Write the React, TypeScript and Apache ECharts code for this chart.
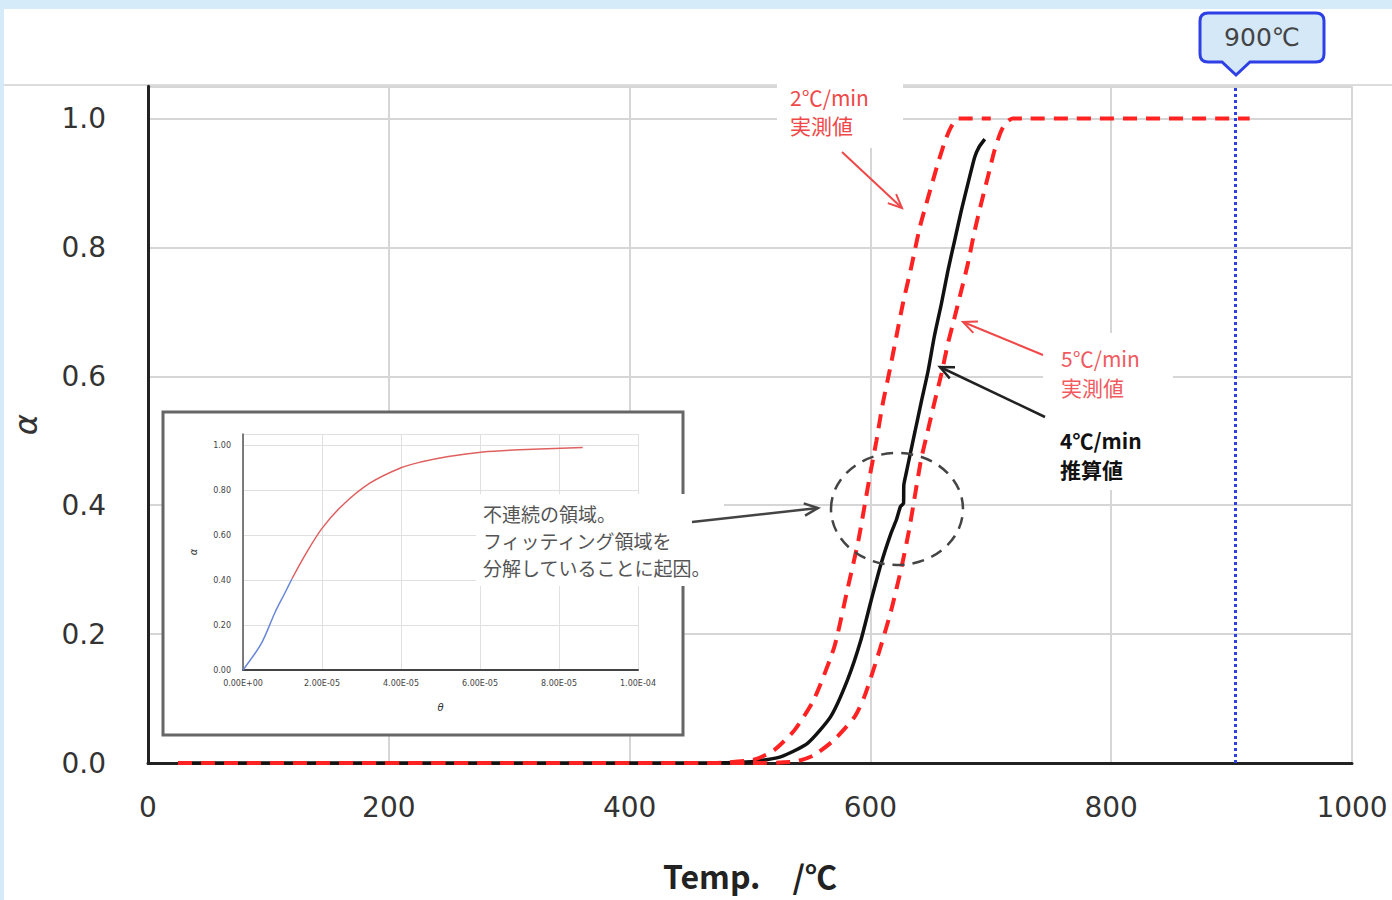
import React, { useEffect, useRef } from "react";
import * as echarts from "echarts";

// ---- main chart data (Temp. °C, α) ----
const slowTemp = [25, 300, 470, 503, 520, 537, 553, 570, 581, 590, 599, 605, 610, 616, 621.5, 627, 634, 641, 648, 656, 662, 667, 673, 700];
const slowAlpha = [0, 0, 0, 0.005, 0.02, 0.051, 0.098, 0.18, 0.27, 0.345, 0.44, 0.5, 0.555, 0.609, 0.661, 0.713, 0.77, 0.831, 0.878, 0.93, 0.965, 0.987, 1.0, 1.0];

const fastTemp = [25, 300, 500, 537, 553, 570, 587, 595, 606, 617, 626, 632, 637, 642, 648, 653, 659, 664.4, 670, 675.5, 681, 686.6, 692, 697.5, 703, 708, 712, 718, 915];
const fastAlpha = [0, 0, 0, 0.002, 0.012, 0.036, 0.072, 0.103, 0.165, 0.235, 0.305, 0.36, 0.415, 0.47, 0.518, 0.558, 0.604, 0.651, 0.692, 0.733, 0.775, 0.826, 0.868, 0.909, 0.95, 0.978, 0.992, 1.0, 1.0];

const calcTemp = [25, 300, 450, 501, 526, 548, 567, 581, 592, 600.7, 609, 617, 621.5, 625, 627.5, 627.8, 630, 633, 637, 642, 648, 653, 659, 664.4, 670, 675.5, 681, 686.6, 690, 695];
const calcAlpha = [0, 0, 0, 0.002, 0.01, 0.031, 0.072, 0.129, 0.19, 0.253, 0.31, 0.356, 0.377, 0.398, 0.403, 0.432, 0.452, 0.479, 0.514, 0.558, 0.609, 0.661, 0.713, 0.764, 0.811, 0.857, 0.899, 0.94, 0.955, 0.968];

const markTemp = 903;

const xTicks = [0, 200, 400, 600, 800, 1000];
const yTickLabels = ["0.0", "0.2", "0.4", "0.6", "0.8", "1.0"];

// ---- inset data (θ in units of 1E-05, α) ----
const insetBlueX = [0, 0.47, 0.81, 1.07, 1.24];
const insetBlueY = [0, 0.12, 0.256, 0.346, 0.406];
const insetRedX = [1.24, 1.6, 2.0, 2.5, 3.2, 4.0, 4.5, 5.2, 6.07, 7.0, 8.6];
const insetRedY = [0.406, 0.52, 0.63, 0.73, 0.83, 0.9, 0.925, 0.95, 0.97, 0.98, 0.99];
const insetXLabels = ["0.00E+00", "2.00E-05", "4.00E-05", "6.00E-05", "8.00E-05", "1.00E-04"];
const insetYLabels = ["0.00", "0.20", "0.40", "0.60", "0.80", "1.00"];

const zip = (a: number[], b: number[]) => a.map((v, i) => [v, b[i]]);

const CJK = '"Noto Sans CJK JP", "Noto Sans", sans-serif';
const LAT = '"DejaVu Sans", sans-serif';

function arrow(x1: number, y1: number, x2: number, y2: number, color: string, w: number, z: number) {
  const ang = Math.atan2(y2 - y1, x2 - x1);
  const L = 15, a = 0.42;
  return [
    { type: "line", z, shape: { x1, y1, x2, y2 }, style: { stroke: color, lineWidth: w } },
    {
      type: "polyline", z,
      shape: {
        points: [
          [x2 - L * Math.cos(ang - a), y2 - L * Math.sin(ang - a)],
          [x2, y2],
          [x2 - L * Math.cos(ang + a), y2 - L * Math.sin(ang + a)],
        ],
      },
      style: { stroke: color, lineWidth: w, fill: null },
    },
  ];
}

function label(x: number, y: number, lines: string[], fill: string, bold: boolean, z: number, size = 21, gap = 29) {
  return lines.map((t, i) => ({
    type: "text", z, x, y: y + i * gap,
    style: { text: t, fill, fontSize: size, fontWeight: bold ? "bold" : "normal", fontFamily: CJK, verticalAlign: "middle" },
  }));
}

let registered = false;

export default function App() {
  const ref = useRef<HTMLDivElement>(null);
  useEffect(() => {
    if (!ref.current) return;
    if (!registered) {
      const d = "M1208,13 L1316,13 Q1324,13 1324,21 L1324,54 Q1324,62 1316,62 L1250,62 L1236,75 L1222,62 L1208,62 Q1200,62 1200,54 L1200,21 Q1200,13 1208,13 Z";
      echarts.graphic.registerShape("bubble", (echarts.graphic as any).extendPath(d, {}));
      registered = true;
    }
    const chart = echarts.init(ref.current, undefined, { renderer: "svg" });
    const mainLine = { showSymbol: false, smooth: 0.2, xAxisIndex: 0, yAxisIndex: 0, z: 2 };
    const option: any = {
      animation: false,
      grid: [
        { left: 148, right: 40, top: 86.3, bottom: 137 },
        { left: 243, top: 434, width: 395, height: 236 },
      ],
      xAxis: [
        {
          type: "value", gridIndex: 0, min: 0, max: 1000, interval: 200,
          axisLine: { show: true, onZero: false, lineStyle: { color: "#222", width: 3 } },
          axisTick: { show: false },
          axisLabel: { margin: 30, fontSize: 28, fontFamily: LAT, color: "#333", formatter: (v: number) => String(xTicks[Math.round(v / 200)]) },
          splitLine: { show: true, lineStyle: { color: "#d6d6d6", width: 2 } },
          name: "Temp.\u3000/℃", nameLocation: "middle", nameGap: 96,
          nameTextStyle: { fontSize: 32, fontWeight: "bold", fontFamily: CJK, color: "#222" },
        },
        {
          type: "value", gridIndex: 1, min: 0, max: 10, interval: 2, z: 3,
          axisLine: { show: true, onZero: false, lineStyle: { color: "#444", width: 2 } },
          axisTick: { show: false },
          axisLabel: { margin: 9, fontSize: 8, fontFamily: LAT, color: "#444", formatter: (v: number) => insetXLabels[Math.round(v / 2)] },
          splitLine: { show: true, lineStyle: { color: "#e0e0e0", width: 1 } },
          name: "θ", nameLocation: "middle", nameGap: 32,
          nameTextStyle: { fontSize: 10, fontStyle: "italic", color: "#333", fontFamily: LAT },
        },
      ],
      yAxis: [
        {
          type: "value", gridIndex: 0, min: 0, max: 1.05, interval: 0.2,
          axisLine: { show: true, onZero: false, lineStyle: { color: "#222", width: 3 } },
          axisTick: { show: false },
          axisLabel: { margin: 42, fontSize: 28, fontFamily: LAT, color: "#333", showMaxLabel: false, formatter: (v: number) => yTickLabels[Math.round(v / 0.2)] ?? "" },
          splitLine: { show: true, lineStyle: { color: "#d6d6d6", width: 2 } },
          name: "α", nameLocation: "middle", nameGap: 106, nameRotate: 90,
          nameTextStyle: { fontSize: 32, fontStyle: "italic", fontFamily: LAT, color: "#333" },
        },
        {
          type: "value", gridIndex: 1, min: 0, max: 1.05, interval: 0.2, z: 3,
          axisLine: { show: true, onZero: false, lineStyle: { color: "#555", width: 1.5 } },
          axisTick: { show: false },
          axisLabel: { margin: 12, fontSize: 8, fontFamily: LAT, color: "#444", showMaxLabel: false, formatter: (v: number) => insetYLabels[Math.round(v / 0.2)] ?? "" },
          splitLine: { show: true, lineStyle: { color: "#e0e0e0", width: 1 } },
          name: "α", nameLocation: "middle", nameGap: 45, nameRotate: 90,
          nameTextStyle: { fontSize: 10, fontStyle: "italic", color: "#333", fontFamily: LAT },
        },
      ],
      series: [
        {
          ...mainLine, type: "line", name: "4℃/min 推算値",
          data: zip(calcTemp, calcAlpha),
          lineStyle: { color: "#111", width: 3.5 },
          markLine: {
            silent: true, symbol: ["none", "none"], label: { show: false },
            lineStyle: { color: "#2e3fe6", type: "dotted", width: 3 },
            data: [{ xAxis: markTemp }],
          },
        },
        {
          ...mainLine, type: "line", name: "2℃/min 実測値",
          data: zip(slowTemp, slowAlpha),
          lineStyle: { color: "#ff2222", width: 4, type: [14, 9] },
        },
        {
          ...mainLine, type: "line", name: "5℃/min 実測値",
          data: zip(fastTemp, fastAlpha),
          lineStyle: { color: "#ff2222", width: 4, type: [14, 9] },
        },
        {
          type: "line", xAxisIndex: 1, yAxisIndex: 1, z: 4,
          data: zip(insetBlueX, insetBlueY), showSymbol: false, smooth: 0.3,
          lineStyle: { color: "#6a88d8", width: 1.5 },
        },
        {
          type: "line", xAxisIndex: 1, yAxisIndex: 1, z: 4,
          data: zip(insetRedX, insetRedY), showSymbol: false, smooth: 0.3,
          lineStyle: { color: "#e06060", width: 1.5 },
        },
      ],
      graphic: [
        { type: "line", z: 0, shape: { x1: 4, y1: 85, x2: 1392, y2: 85 }, style: { stroke: "#dcdcdc", lineWidth: 2 } },
        // inset frame
        { type: "rect", z: 1, shape: { x: 163, y: 412, width: 520, height: 323 }, style: { fill: "#fff", stroke: "#666", lineWidth: 3 } },
        // annotation inside inset
        { type: "rect", z: 5, shape: { x: 476, y: 494, width: 248, height: 92 }, style: { fill: "#fff" } },
        ...label(483, 513, ["不連続の領域。", "フィッティング領域を", "分解していることに起因。"], "#555", false, 6, 19, 27),
        ...arrow(692, 522, 818, 508, "#444", 2.5, 6),
        {
          type: "ellipse", z: 3, shape: { cx: 897, cy: 509, rx: 66, ry: 56 },
          style: { fill: null, stroke: "#444", lineWidth: 2.5, lineDash: [12, 8] },
        },
        // 2℃/min label
        { type: "rect", z: 1, shape: { x: 777, y: 76, width: 126, height: 72 }, style: { fill: "#fff" } },
        ...label(790, 97, ["2℃/min", "実測値"], "#f04848", false, 2, 21, 28),
        ...arrow(842, 152, 902, 208, "#f04848", 2, 3),
        // 5℃/min and 4℃/min labels
        { type: "rect", z: 1, shape: { x: 1043, y: 333, width: 130, height: 157 }, style: { fill: "#fff" } },
        ...label(1061, 358, ["5℃/min", "実測値"], "#f05a60", false, 2),
        ...label(1060, 440, ["4℃/min", "推算値"], "#111", true, 2),
        ...arrow(1043, 355, 963, 322, "#f04848", 2, 3),
        ...arrow(1045, 417, 940, 367, "#222", 2.5, 3),
        // 900℃ callout
        { type: "bubble", z: 4, x: 0, y: 0, style: { fill: "#d4e8f8", stroke: "#2e3fe6", lineWidth: 3 } },
        {
          type: "text", z: 5, x: 1262, y: 37,
          style: { text: "900℃", fill: "#444", fontSize: 25, fontFamily: LAT, align: "center", verticalAlign: "middle" },
        },
      ],
    };
    chart.setOption(option);
    return () => chart.dispose();
  }, []);

  return (
    <div style={{ position: "fixed", left: 0, top: 0, width: 1392, height: 900, background: "#d6ebfa", overflow: "hidden" }}>
      <div style={{ position: "absolute", left: 4, top: 9, right: 0, bottom: 0, background: "#fff" }} />
      <div ref={ref} style={{ position: "absolute", left: 0, top: 0, width: 1392, height: 900 }} />
    </div>
  );
}
